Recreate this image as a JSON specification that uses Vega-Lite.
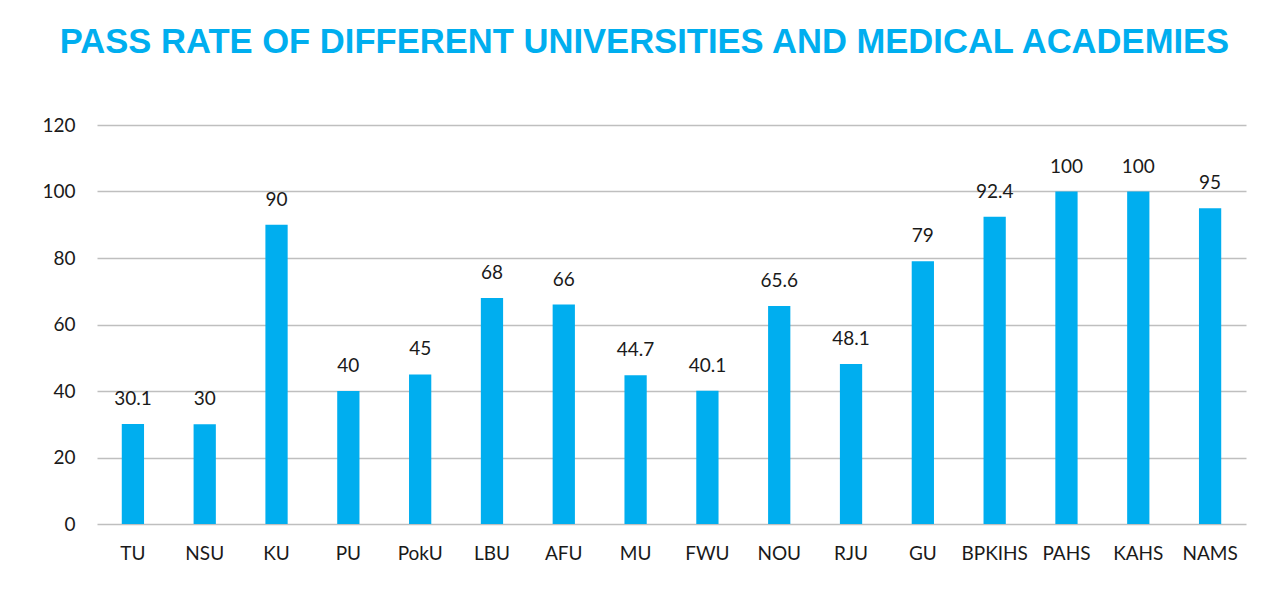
{
  "$schema": "https://vega.github.io/schema/vega-lite/v6.json",
  "autosize": {"type": "none"},
  "width": 1149,
  "height": 399,
  "padding": {"left": 97, "top": 125, "right": 42, "bottom": 68},
  "background": "white",
  "title": {
    "text": "PASS RATE OF DIFFERENT UNIVERSITIES AND MEDICAL ACADEMIES",
    "font": "Liberation Sans",
    "fontSize": 34.6,
    "fontWeight": "bold",
    "color": "#00AEEF",
    "anchor": "middle",
    "dx": -27,
    "offset": 55
  },
  "data": {
    "values": [
      {"uni": "TU", "rate": 30.1},
      {"uni": "NSU", "rate": 30},
      {"uni": "KU", "rate": 90},
      {"uni": "PU", "rate": 40},
      {"uni": "PokU", "rate": 45},
      {"uni": "LBU", "rate": 68},
      {"uni": "AFU", "rate": 66},
      {"uni": "MU", "rate": 44.7},
      {"uni": "FWU", "rate": 40.1},
      {"uni": "NOU", "rate": 65.6},
      {"uni": "RJU", "rate": 48.1},
      {"uni": "GU", "rate": 79},
      {"uni": "BPKIHS", "rate": 92.4},
      {"uni": "PAHS", "rate": 100},
      {"uni": "KAHS", "rate": 100},
      {"uni": "NAMS", "rate": 95}
    ]
  },
  "encoding": {
    "x": {
      "field": "uni",
      "type": "nominal",
      "sort": null,
      "scale": {"paddingInner": 0.69, "paddingOuter": 0.345},
      "axis": {
        "title": null,
        "labelAngle": 0,
        "labelFont": "Lato",
        "labelFontSize": 19,
        "labelColor": "#1a1a1a",
        "labelPadding": 20,
        "domain": false,
        "ticks": false,
        "grid": false
      }
    },
    "y": {
      "field": "rate",
      "type": "quantitative",
      "scale": {"domain": [0, 120], "nice": false},
      "axis": {
        "title": null,
        "values": [0, 20, 40, 60, 80, 100, 120],
        "labelFont": "Lato",
        "labelFontSize": 19,
        "labelColor": "#1a1a1a",
        "labelPadding": 22,
        "domain": false,
        "ticks": false,
        "grid": true,
        "gridColor": "#BFBFBF",
        "gridWidth": 1.5
      }
    }
  },
  "layer": [
    {"mark": {"type": "bar", "color": "#00AEEF"}},
    {
      "mark": {"type": "text", "dy": -25, "font": "Lato", "fontSize": 19, "color": "#1a1a1a"},
      "encoding": {"text": {"field": "rate", "type": "quantitative"}}
    }
  ],
  "config": {"view": {"stroke": null}}
}
